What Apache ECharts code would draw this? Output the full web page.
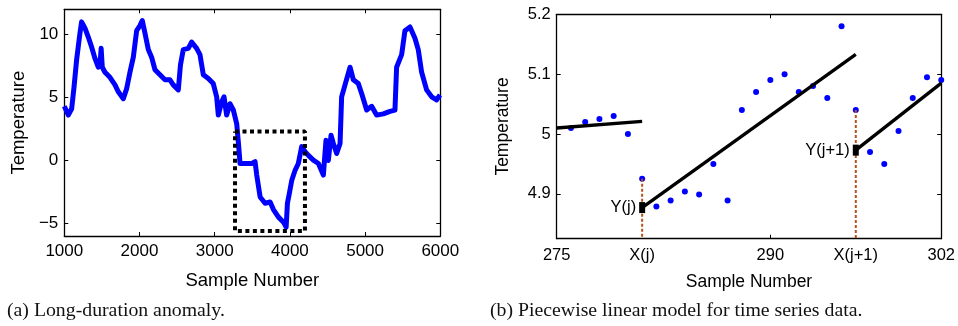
<!DOCTYPE html>
<html><head><meta charset="utf-8">
<script src="https://cdn.jsdelivr.net/npm/echarts@6/dist/echarts.min.js"></script>
<style>html,body{margin:0;padding:0;background:#fff}#c{width:958px;height:326px}</style>
</head><body><div id="c"></div><script>
// ---- (a) Long-duration anomaly ----
const anomalySample = [1000,1053,1098,1129,1164,1208,1230,1275,1319,1363,1408,1452,1474,1490,1505,1541,1607,1674,1718,1785,1829,1873,1918,1962,2006,2037,2073,2117,2161,2206,2272,2339,2405,2449,2516,2530,2545,2582,2649,2693,2760,2804,2849,2915,2981,3026,3048,3093,3124,3159,3203,3248,3293,3316,3337,3404,3493,3537,3559,3604,3670,3737,3781,3848,3915,3950,3967,3993,4024,4068,4112,4157,4201,4246,4312,4379,4445,4480,4511,4547,4578,4622,4667,4688,4733,4800,4844,4910,4955,5021,5087,5153,5242,5331,5397,5419,5486,5530,5597,5663,5707,5752,5818,5885,5951,5996];
const anomalyTemp   = [4.3,3.6,4.1,5.8,8.0,10.1,11.0,10.5,9.8,9.0,8.1,7.4,7.6,8.9,7.4,7.0,6.6,6.0,5.45,4.9,5.7,7.0,8.2,10.3,10.7,11.1,10.1,8.8,8.2,7.2,6.8,6.4,6.4,6.0,5.6,5.6,7.6,8.8,8.9,9.4,8.9,8.4,6.8,6.5,6.1,5.05,3.6,4.65,5.05,3.6,4.5,4.0,2.9,1.35,-0.24,-0.24,-0.24,-0.1,-1.16,-2.9,-3.4,-3.3,-3.9,-4.5,-4.9,-5.3,-3.4,-2.6,-1.6,-0.8,-0.24,1.1,0.7,0.4,0.03,-0.24,-1.16,1.6,0,2.0,1.35,0.55,1.35,5.05,6.0,7.4,6.4,6.1,5.3,4.0,4.3,3.6,3.7,3.9,4.0,7.4,8.4,10.3,10.6,9.7,8.8,7.0,5.6,5.05,4.8,5.2];
const boxX = [3270,4200,4200,3270,3270];
const boxY = [2.3,2.3,-5.6,-5.6,2.3];
const aXTicks = [1000,2000,3000,4000,5000,6000];
const aYTicks = [-5,0,5,10];

// ---- (b) Piecewise linear model ----
const sampleX = [276,277,278,279,280,281,282,283,284,285,286,287,288,289,290,291,292,293,294,295,296,297,298,299,300,301,302];
const sampleY = [5.010,5.020,5.025,5.030,5.000,4.925,4.879,4.889,4.904,4.899,4.950,4.889,5.040,5.070,5.090,5.100,5.070,5.080,5.060,5.180,5.040,4.970,4.950,5.005,5.060,5.095,5.090];
const seg1X = [275,281], seg1Y = [5.010,5.021];
const seg2X = [281,296], seg2Y = [4.877,5.133];
const seg3X = [296,302], seg3Y = [4.973,5.085];
const knotX = [281,296], knotY = [4.877,4.973], knotLabels = ['Y(j)','Y(j+1)'];
const drop1X = [281,281], drop1Y = [4.925,4.825];
const drop2X = [296,296], drop2Y = [5.040,4.825];
const bXTicks = [275,281,290,296,302];
const bXTickLabels = ['275','X(j)','290','X(j+1)','302'];
const bXTickMarks = [275,290,302];
const bYTicks = [4.9,5.0,5.1,5.2];
const bYTickLabels = ['4.9','5','5.1','5.2'];

const captions = ['(a) Long-duration anomaly.','(b) Piecewise linear model for time series data.'];

const zip = (xs, ys) => xs.map((x, i) => [x, ys[i]]);
const FONT = 'Liberation Sans, Arial, sans-serif';
const axLine = {show: true, onZero: false, lineStyle: {color: '#000', width: 1.3}};

function xAx(grid, min, max, ticks, labels, markTicks, name, pos, nameGap, margin, fs, nfs) {
  const shown = pos === 'bottom';
  return {
    type: 'value', gridIndex: grid, min, max, position: pos,
    axisLine: axLine, splitLine: {show: false},
    axisTick: {show: true, inside: true, length: 4, lineStyle: {color: '#000', width: 1}, customValues: markTicks},
    axisLabel: {show: shown, margin, fontSize: fs, color: '#000', fontFamily: FONT, customValues: ticks,
      formatter: v => { const i = ticks.indexOf(v); return labels[i] !== undefined ? labels[i] : String(v); }},
    name: shown ? name : '', nameLocation: 'middle', nameGap,
    nameTextStyle: {fontSize: nfs, color: '#000', fontFamily: FONT}
  };
}
function yAx(grid, min, max, ticks, labels, name, pos, nameGap, fs, nfs) {
  const shown = pos === 'left';
  return {
    type: 'value', gridIndex: grid, min, max, position: pos,
    axisLine: axLine, splitLine: {show: false},
    axisTick: {show: true, inside: true, length: 4, lineStyle: {color: '#000', width: 1}, customValues: ticks},
    axisLabel: {show: shown, margin: 6, fontSize: fs, color: '#000', fontFamily: FONT, customValues: ticks,
      formatter: v => { const i = ticks.indexOf(v); return labels[i] !== undefined ? labels[i] : String(v); }},
    name: shown ? name : '', nameLocation: 'middle', nameGap,
    nameTextStyle: {fontSize: nfs, color: '#000', fontFamily: FONT}
  };
}

const chart = echarts.init(document.getElementById('c'), null, {renderer: 'canvas'});
const aYLabels = aYTicks.map(v => v < 0 ? '\u2212' + Math.abs(v) : String(v));
chart.setOption({
  animation: false,
  backgroundColor: '#fff',
  grid: [
    {left: 64.3, top: 9.3, width: 376, height: 226.7, containLabel: false},
    {left: 556.7, top: 14.3, width: 385.3, height: 224.4, containLabel: false}
  ],
  xAxis: [
    xAx(0, 1000, 6000, aXTicks, aXTicks.map(String), aXTicks, 'Sample Number', 'bottom', 35, 7, 17, 18.5),
    xAx(0, 1000, 6000, aXTicks, aXTicks.map(String), aXTicks, '', 'top', 35, 7, 17, 18.5),
    xAx(1, 275, 302, bXTicks, bXTickLabels, bXTickMarks, 'Sample Number', 'bottom', 34, 8, 16.5, 17.5),
    xAx(1, 275, 302, bXTicks, bXTickLabels, bXTickMarks, '', 'top', 34, 8, 16.5, 17.5)
  ],
  yAxis: [
    yAx(0, -6, 12, aYTicks, aYLabels, 'Temperature', 'left', 36, 17, 18.5),
    yAx(0, -6, 12, aYTicks, aYLabels, '', 'right', 36, 17, 18.5),
    yAx(1, 4.825, 5.2, bYTicks, bYTickLabels, 'Temperature', 'left', 45, 16.5, 17.5),
    yAx(1, 4.825, 5.2, bYTicks, bYTickLabels, '', 'right', 45, 16.5, 17.5)
  ],
  series: [
    {type: 'line', xAxisIndex: 0, yAxisIndex: 0, data: zip(anomalySample, anomalyTemp), showSymbol: false,
      lineStyle: {color: '#0000ff', width: 5, join: 'round'}},
    {type: 'line', xAxisIndex: 0, yAxisIndex: 0, data: zip(boxX, boxY), showSymbol: false,
      lineStyle: {color: '#000', width: 4, type: [4, 3.5], cap: 'butt'}},
    {type: 'line', xAxisIndex: 2, yAxisIndex: 2, data: zip(drop1X, drop1Y), showSymbol: false,
      lineStyle: {color: '#b8501c', width: 2, type: [3, 2]}},
    {type: 'line', xAxisIndex: 2, yAxisIndex: 2, data: zip(drop2X, drop2Y), showSymbol: false,
      lineStyle: {color: '#b8501c', width: 2, type: [3, 2]}},
    {type: 'line', xAxisIndex: 2, yAxisIndex: 2, data: zip(seg1X, seg1Y), showSymbol: false,
      lineStyle: {color: '#000', width: 3.3}},
    {type: 'line', xAxisIndex: 2, yAxisIndex: 2, data: zip(seg2X, seg2Y), showSymbol: false,
      lineStyle: {color: '#000', width: 3.3}},
    {type: 'line', xAxisIndex: 2, yAxisIndex: 2, data: zip(seg3X, seg3Y), showSymbol: false,
      lineStyle: {color: '#000', width: 3.3}},
    {type: 'scatter', xAxisIndex: 2, yAxisIndex: 2, data: zip(sampleX, sampleY), symbol: 'circle', symbolSize: 6,
      itemStyle: {color: '#0000ff', opacity: 1}},
    {type: 'scatter', xAxisIndex: 2, yAxisIndex: 2, data: zip(knotX, knotY), symbol: 'rect', symbolSize: [6, 11],
      itemStyle: {color: '#000', opacity: 1}, z: 5,
      label: {show: true, position: 'left', distance: 3, fontSize: 16.5, color: '#000', fontFamily: FONT,
        formatter: p => knotLabels[p.dataIndex]}}
  ],
  graphic: [
    {type: 'text', left: 7, top: 301, style: {text: captions[0], font: '19.8px "Liberation Serif", serif', fill: '#111'}},
    {type: 'text', left: 490, top: 301, style: {text: captions[1], font: '19.8px "Liberation Serif", serif', fill: '#111'}}
  ]
});
</script></body></html>
